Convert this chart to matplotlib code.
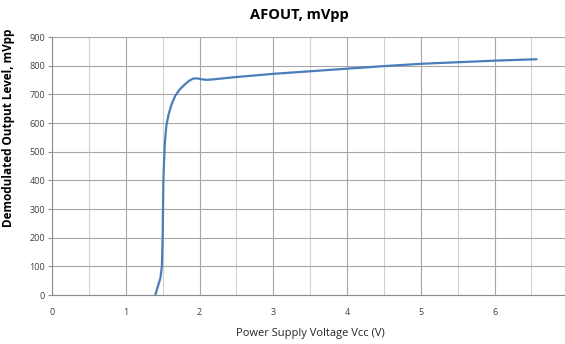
import matplotlib
matplotlib.use("Agg")
import matplotlib.pyplot as plt
import numpy as np

# Supply voltage (V) and demodulated output level (mVpp)
vcc = [1.40, 1.47, 1.49, 1.50, 1.51, 1.52, 1.53, 1.55, 1.58, 1.62, 1.67, 1.73,
       1.80, 1.86, 1.92, 1.97, 2.03, 2.10, 2.20, 2.46, 3.00, 4.00, 4.50, 5.00,
       6.00, 6.57]
afout = [0, 60, 100, 200, 400, 470, 530, 590, 630, 665, 695, 717,
         735, 748, 756, 756, 753, 751, 753, 760, 772, 790, 799, 807,
         818, 823]

x_ticks = [0, 1, 2, 3, 4, 5, 6]
y_ticks = [0, 100, 200, 300, 400, 500, 600, 700, 800, 900]

plt.rcParams['font.family'] = ['Open Sans', 'DejaVu Sans']

fig = plt.figure(figsize=(5.65, 3.44), dpi=100)
ax = fig.add_axes([0.092, 0.142, 0.91, 0.750])

ax.plot(vcc, afout, color='#4a7ebb', lw=1.6, solid_capstyle='round',
        solid_joinstyle='round')

ax.set_xlim(0, 6.97)
ax.set_ylim(0, 900)
ax.set_xticks(x_ticks)
ax.set_xticks(np.arange(0.5, 7, 1.0), minor=True)
ax.set_yticks(y_ticks)

ax.grid(True, which='major', color='#a6a6a6', lw=0.8)
ax.grid(True, which='minor', axis='x', color='#d0d0d0', lw=0.8)
ax.set_axisbelow(True)

for s in ['top', 'right']:
    ax.spines[s].set_visible(False)
ax.spines['left'].set_color('#8c8c8c')
ax.spines['bottom'].set_color('#8c8c8c')
ax.spines['left'].set_linewidth(0.8)
ax.spines['bottom'].set_linewidth(0.8)

ax.tick_params(axis='y', which='major', length=3, color='#8c8c8c',
               labelsize=6.5, labelcolor='#404040', pad=2)
ax.tick_params(axis='x', which='both', length=0, labelsize=6.5,
               labelcolor='#404040', pad=9)

fig.text(0.53, 0.955, 'AFOUT, mVpp', ha='center', va='center',
         fontsize=10.5, fontweight='bold')
ax.set_ylabel('Demodulated Output Level, mVpp', fontsize=8.5,
              fontweight='bold')
ax.yaxis.set_label_coords(-0.072, 0.65)
fig.text(0.55, 0.03, 'Power Supply Voltage Vcc (V)', ha='center',
         va='center', fontsize=8, color='#262626')

fig.savefig('out.png', dpi=100)
